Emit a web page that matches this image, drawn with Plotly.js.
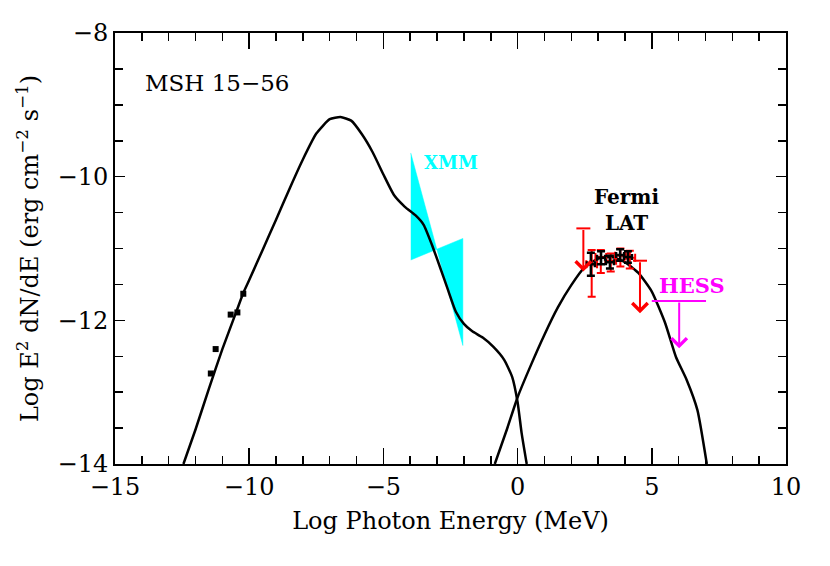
<!DOCTYPE html>
<html>
<head>
<meta charset="utf-8">
<script src="https://cdn.plot.ly/plotly-3.0.1.min.js"></script>
<style>html,body{margin:0;padding:0;background:#fff;}#chart{width:830px;height:566px;}</style>
</head>
<body>
<div id="chart"></div>
<script>
// Synchrotron model curve
const syncX = [-12.45, -12.0, -11.5, -11.0, -10.5, -10.22, -10.0, -9.5, -9.0, -8.5, -8.0, -7.5, -7.0, -6.6, -6.2, -5.8, -5.4, -5.0, -4.6, -4.2, -3.8, -3.5, -3.2, -2.9, -2.6, -2.3, -2.0, -1.7, -1.3, -0.9, -0.5, -0.2, 0.0, 0.15, 0.34];
const syncY = [-14.0, -13.52, -12.95, -12.40, -11.90, -11.62, -11.44, -11.02, -10.60, -10.17, -9.76, -9.40, -9.20, -9.17, -9.22, -9.41, -9.66, -9.97, -10.26, -10.42, -10.54, -10.67, -10.94, -11.25, -11.57, -11.88, -12.05, -12.15, -12.24, -12.37, -12.55, -12.79, -13.14, -13.57, -14.0];
// Inverse-Compton model curve
const icX = [-0.85, -0.4, 0.0, 0.5, 1.0, 1.5, 2.0, 2.5, 3.0, 3.5, 4.0, 4.5, 5.0, 5.5, 5.9, 6.3, 6.7, 7.05];
const icY = [-14.0, -13.52, -13.07, -12.62, -12.20, -11.82, -11.51, -11.26, -11.14, -11.12, -11.19, -11.34, -11.60, -12.04, -12.51, -12.83, -13.25, -14.0];
// Radio data (squares)
const radioX = [-11.43, -11.25, -10.69, -10.44, -10.22];
const radioY = [-12.74, -12.40, -11.92, -11.89, -11.63];
// XMM bowtie
const xmmX = [-3.98, -3.01, -2.04, -2.04, -3.01, -3.98];
const xmmY = [-9.67, -11.01, -12.35, -10.86, -11.01, -11.16];
// Fermi LAT red points
const latRedX = [2.76, 3.10, 3.47, 3.83, 4.18];
const latRedY = [-11.22, -11.12, -11.17, -11.10, -11.13];
const latRedErrPlus = [0.20, 0.10, 0.10, 0.10, 0.10];
const latRedErrMinus = [0.45, 0.22, 0.15, 0.15, 0.15];
const latRedErrX = [0.20, 0.20, 0.20, 0.20, 0.20];
// Fermi LAT black points
const latX = [2.73, 3.11, 3.44, 3.82, 4.11];
const latY = [-11.22, -11.13, -11.19, -11.09, -11.12];
const latErrY = [0.16, 0.09, 0.09, 0.08, 0.08];
const latErrX = [0.15, 0.15, 0.15, 0.15, 0.15];
// Fermi upper limits
const ulX = [2.45, 4.56];
const ulTop = [-10.72, -11.17];
const ulTip = [-11.32, -11.90];
// HESS upper limit
const hessX = [5.0, 7.02];
const hessY = [-11.73, -11.73];
const hessArrowX = 6.02;
const hessArrowTip = -12.39;

const traces = [
  {x: xmmX, y: xmmY, type: 'scatter', mode: 'lines', fill: 'toself', fillcolor: '#00ffff', line: {color: '#00ffff', width: 0.5}, hoverinfo: 'skip'},
  {x: syncX, y: syncY, type: 'scatter', mode: 'lines', line: {color: 'black', width: 2.5, shape: 'spline', smoothing: 0.5}},
  {x: icX, y: icY, type: 'scatter', mode: 'lines', line: {color: 'black', width: 2.5, shape: 'spline', smoothing: 0.5}},
  {x: radioX, y: radioY, type: 'scatter', mode: 'markers', marker: {symbol: 'square', size: 6, color: 'black'}},
  {x: latRedX, y: latRedY, type: 'scatter', mode: 'markers', marker: {size: 1, color: 'red'},
   error_y: {type: 'data', symmetric: false, array: latRedErrPlus, arrayminus: latRedErrMinus, color: 'red', thickness: 2, width: 4},
   error_x: {type: 'data', array: latRedErrX, color: 'red', thickness: 2, width: 4}},
  {x: latX, y: latY, type: 'scatter', mode: 'markers', marker: {size: 1, color: 'black'},
   error_y: {type: 'data', array: latErrY, color: 'black', thickness: 2.5, width: 4},
   error_x: {type: 'data', array: latErrX, color: 'black', thickness: 2.5, width: 3}},
  {x: ulX, y: ulTop, type: 'scatter', mode: 'markers', marker: {symbol: 'line-ew', size: 10, line: {color: 'red', width: 2}}},
  {x: hessX, y: hessY, type: 'scatter', mode: 'lines', line: {color: '#ff00ff', width: 2}}
];

const annotations = [];
for (let i = 0; i < ulX.length; i++) {
  annotations.push({x: ulX[i], y: ulTip[i], ax: ulX[i], ay: ulTop[i], xref: 'x', yref: 'y', axref: 'x', ayref: 'y',
    showarrow: true, arrowhead: 4, arrowsize: 1.5, arrowwidth: 2, arrowcolor: 'red', text: ''});
}
annotations.push({x: hessArrowX, y: hessArrowTip, ax: hessArrowX, ay: hessY[0], xref: 'x', yref: 'y', axref: 'x', ayref: 'y',
  showarrow: true, arrowhead: 4, arrowsize: 1.5, arrowwidth: 2, arrowcolor: '#ff00ff', text: ''});
annotations.push({x: -13.96, y: -8.70, xref: 'x', yref: 'y', xanchor: 'left', yanchor: 'middle', showarrow: false,
  text: 'MSH 15−56', font: {family: 'DejaVu Serif', size: 23, color: 'black'}});
annotations.push({x: -2.48, y: -9.80, xref: 'x', yref: 'y', showarrow: false,
  text: '<b>XMM</b>', font: {family: 'DejaVu Serif', size: 18, color: '#00ffff'}});
annotations.push({x: 4.08, y: -10.46, xref: 'x', yref: 'y', showarrow: false,
  text: '<b>Fermi</b><br><b>LAT</b>', font: {family: 'DejaVu Serif', size: 20, color: 'black'}});
annotations.push({x: 6.49, y: -11.51, xref: 'x', yref: 'y', showarrow: false,
  text: '<b>HESS</b>', font: {family: 'DejaVu Serif', size: 21, color: '#ff00ff'}});

const tickFont = {family: 'DejaVu Serif', size: 24, color: 'black'};
const titleFont = {family: 'DejaVu Serif', size: 24, color: 'black'};
const layout = {
  width: 830, height: 566,
  margin: {l: 115, r: 44, t: 33, b: 102},
  paper_bgcolor: 'white', plot_bgcolor: 'white',
  showlegend: false,
  xaxis: {
    range: [-15, 10], tickmode: 'linear', tick0: -15, dtick: 5,
    ticks: 'inside', ticklen: 16, tickwidth: 1.5, tickcolor: 'black',
    minor: {dtick: 1, ticks: 'inside', ticklen: 8, tickwidth: 1.5, tickcolor: 'black'},
    showline: true, linecolor: 'black', linewidth: 2, mirror: 'allticks',
    showgrid: false, zeroline: false, tickfont: tickFont,
    title: {text: 'Log Photon Energy (MeV)', font: titleFont, standoff: 12}
  },
  yaxis: {
    range: [-14, -8], tickmode: 'linear', tick0: -14, dtick: 2,
    ticks: 'inside', ticklen: 10, tickwidth: 1.5, tickcolor: 'black',
    minor: {dtick: 0.5, ticks: 'inside', ticklen: 8, tickwidth: 1.5, tickcolor: 'black'},
    showline: true, linecolor: 'black', linewidth: 2, mirror: 'allticks',
    showgrid: false, zeroline: false, tickfont: tickFont,
    title: {text: 'Log E<sup>2</sup> dN/dE (erg cm<sup>−2</sup> s<sup>−1</sup>)', font: titleFont, standoff: 12}
  },
  annotations: annotations
};
Plotly.newPlot('chart', traces, layout, {displayModeBar: false, staticPlot: true});
</script>
</body>
</html>
